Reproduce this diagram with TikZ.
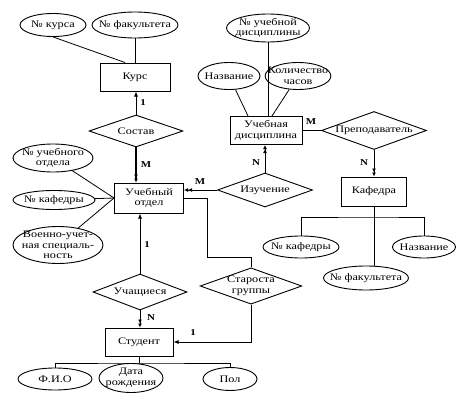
\documentclass[tikz,border=0pt]{standalone}
\usepackage{fontspec}
\setmainfont{Liberation Serif}[FakeStretch=1.22]
\usetikzlibrary{shapes.geometric,arrows.meta}
\begin{document}
\begin{tikzpicture}[x=1pt,y=-1pt,
  every node/.style={font=\fontsize{10}{10.5}\selectfont},
  ent/.style={draw,line width=1pt,rectangle,inner sep=0pt,align=center},
  attr/.style={draw,line width=0.9pt,ellipse,inner xsep=-7pt,inner ysep=-4pt,align=center},
  rel/.style={draw,line width=0.9pt,diamond,aspect=2.8,inner sep=0pt,align=center},
  conn/.style={line width=0.8pt},
  one/.style={conn,-{Latex[length=5pt,width=4pt]}},
  many/.style={conn,-{Latex[length=4pt,width=4pt]Latex[length=4pt,width=4pt]}},
  card/.style={font=\fontsize{9}{9}\selectfont\bfseries,inner sep=0pt}]
\useasboundingbox (0,0) rectangle (459,407);
% entities
\node[ent,minimum width=70pt,minimum height=28pt] (kurs) at (135,77) {Курс};
\node[ent,minimum width=69pt,minimum height=30pt] (uo) at (149,198) {Учебный\\отдел};
\node[ent,minimum width=68pt,minimum height=28pt] (stud) at (139,342) {Студент};
\node[ent,minimum width=72pt,minimum height=28pt] (ud) at (266,130.5) {Учебная\\дисциплина};
\node[ent,minimum width=65pt,minimum height=29pt] (kaf) at (374,191.5) {Кафедра};
% relationships
\node[rel,minimum width=94pt,minimum height=32pt] (sostav) at (136,131) {Состав};
\node[rel,minimum width=94pt,minimum height=36pt] (uch) at (140,292) {Учащиеся};
\node[rel,minimum width=98pt,minimum height=36pt] (star) at (251,286) {Староста\\группы};
\node[rel,minimum width=95pt,minimum height=34pt] (izuch) at (265,190) {Изучение};
\node[rel,minimum width=105pt,minimum height=38pt] (prep) at (374,130.5) {Преподаватель};
% attributes
\node[attr,minimum width=66pt,minimum height=23pt] (kn) at (53,25) {№ курса};
\node[attr,minimum width=86pt,minimum height=26pt] (kf) at (135,25) {№ факультета};
\node[attr,minimum width=80pt,minimum height=28pt] (uon) at (53,158) {№ учебного\\отдела};
\node[attr,minimum width=82pt,minimum height=19pt] (uok) at (54,200) {№ кафедры};
\node[attr,minimum width=90pt,minimum height=37pt] (uov) at (58,245) {Военно-учет-\\ная специаль-\\ность};
\node[attr,minimum width=74pt,minimum height=22pt] (fio) at (55,379) {Ф.И.О};
\node[attr,minimum width=64pt,minimum height=29pt] (dr) at (131,378) {Дата\\рождения};
\node[attr,minimum width=54pt,minimum height=23pt] (pol) at (230,379) {Пол};
\node[attr,minimum width=83pt,minimum height=28pt] (udn) at (268,28) {№ учебной\\дисциплины};
\node[attr,minimum width=62pt,minimum height=27pt] (udname) at (229,76) {Название};
\node[attr,minimum width=58pt,minimum height=27pt] (udk) at (298,76) {Количество\\часов};
\node[attr,minimum width=76pt,minimum height=22pt] (kk) at (301,247) {№ кафедры};
\node[attr,minimum width=63pt,minimum height=22pt] (kname) at (424,247) {Название};
\node[attr,minimum width=85pt,minimum height=24pt] (kfak) at (366,278) {№ факультета};
% junction coordinates
\coordinate (kj) at (374,217);
\coordinate (sj) at (139,363);
\coordinate (c1) at (207,257);
% attribute lines
\draw[conn] (kn.south) -- ([xshift=-10pt]kurs.north);
\draw[conn] (kf.south) -- (kurs.north);
\draw[conn] (uon) -- (uo.west);
\draw[conn] (uok) -- (uo.west);
\draw[conn] (uov) -- (uo.west);
\draw[conn] (udn.south) -- (udn.south |- ud.north);
\draw[conn] (udname) -- ([xshift=-18pt]ud.north);
\draw[conn] (udk) -- ([xshift=6pt]ud.north);
\draw[conn] (kaf.south) -- (kj);
\draw[conn] (kk.north) |- (kj) -| (kname.north);
\draw[conn] (kj) -- (kj |- kfak.north);
\draw[conn] (stud.south) -- (stud.south |- dr.north);
\draw[conn] (fio.north) |- (sj) -| (pol.north);
% relationship connectors
\draw[one] (sostav.north) -- (sostav.north |- kurs.south);
\node[card] at (143,103) {1};
\draw[many,line width=1.8pt] (sostav.south) -- (sostav.south |- uo.north);
\node[card] at (146,165) {M};
\draw[many] (izuch.west) -- (izuch.west -| uo.east);
\node[card] at (200,182) {M};
\draw[many] (izuch.north) -- (izuch.north |- ud.south);
\node[card] at (256,163) {N};
\draw[conn] (ud.east) -- (prep.west);
\node[card] at (311,122) {M};
\draw[many] (prep.south) -- (kaf.north);
\node[card] at (364,163) {N};
\draw[one] (uch.north) -- (uch.north |- uo.south);
\node[card] at (147,245) {1};
\draw[many] (uch.south) -- (uch.south |- stud.north);
\node[card] at (151,318) {N};
\draw[conn] (uo.east) -| (c1) -| (star.north);
\draw[one] (star.south) |- (stud.east);
\node[card] at (193,333) {1};
\end{tikzpicture}
\end{document}
